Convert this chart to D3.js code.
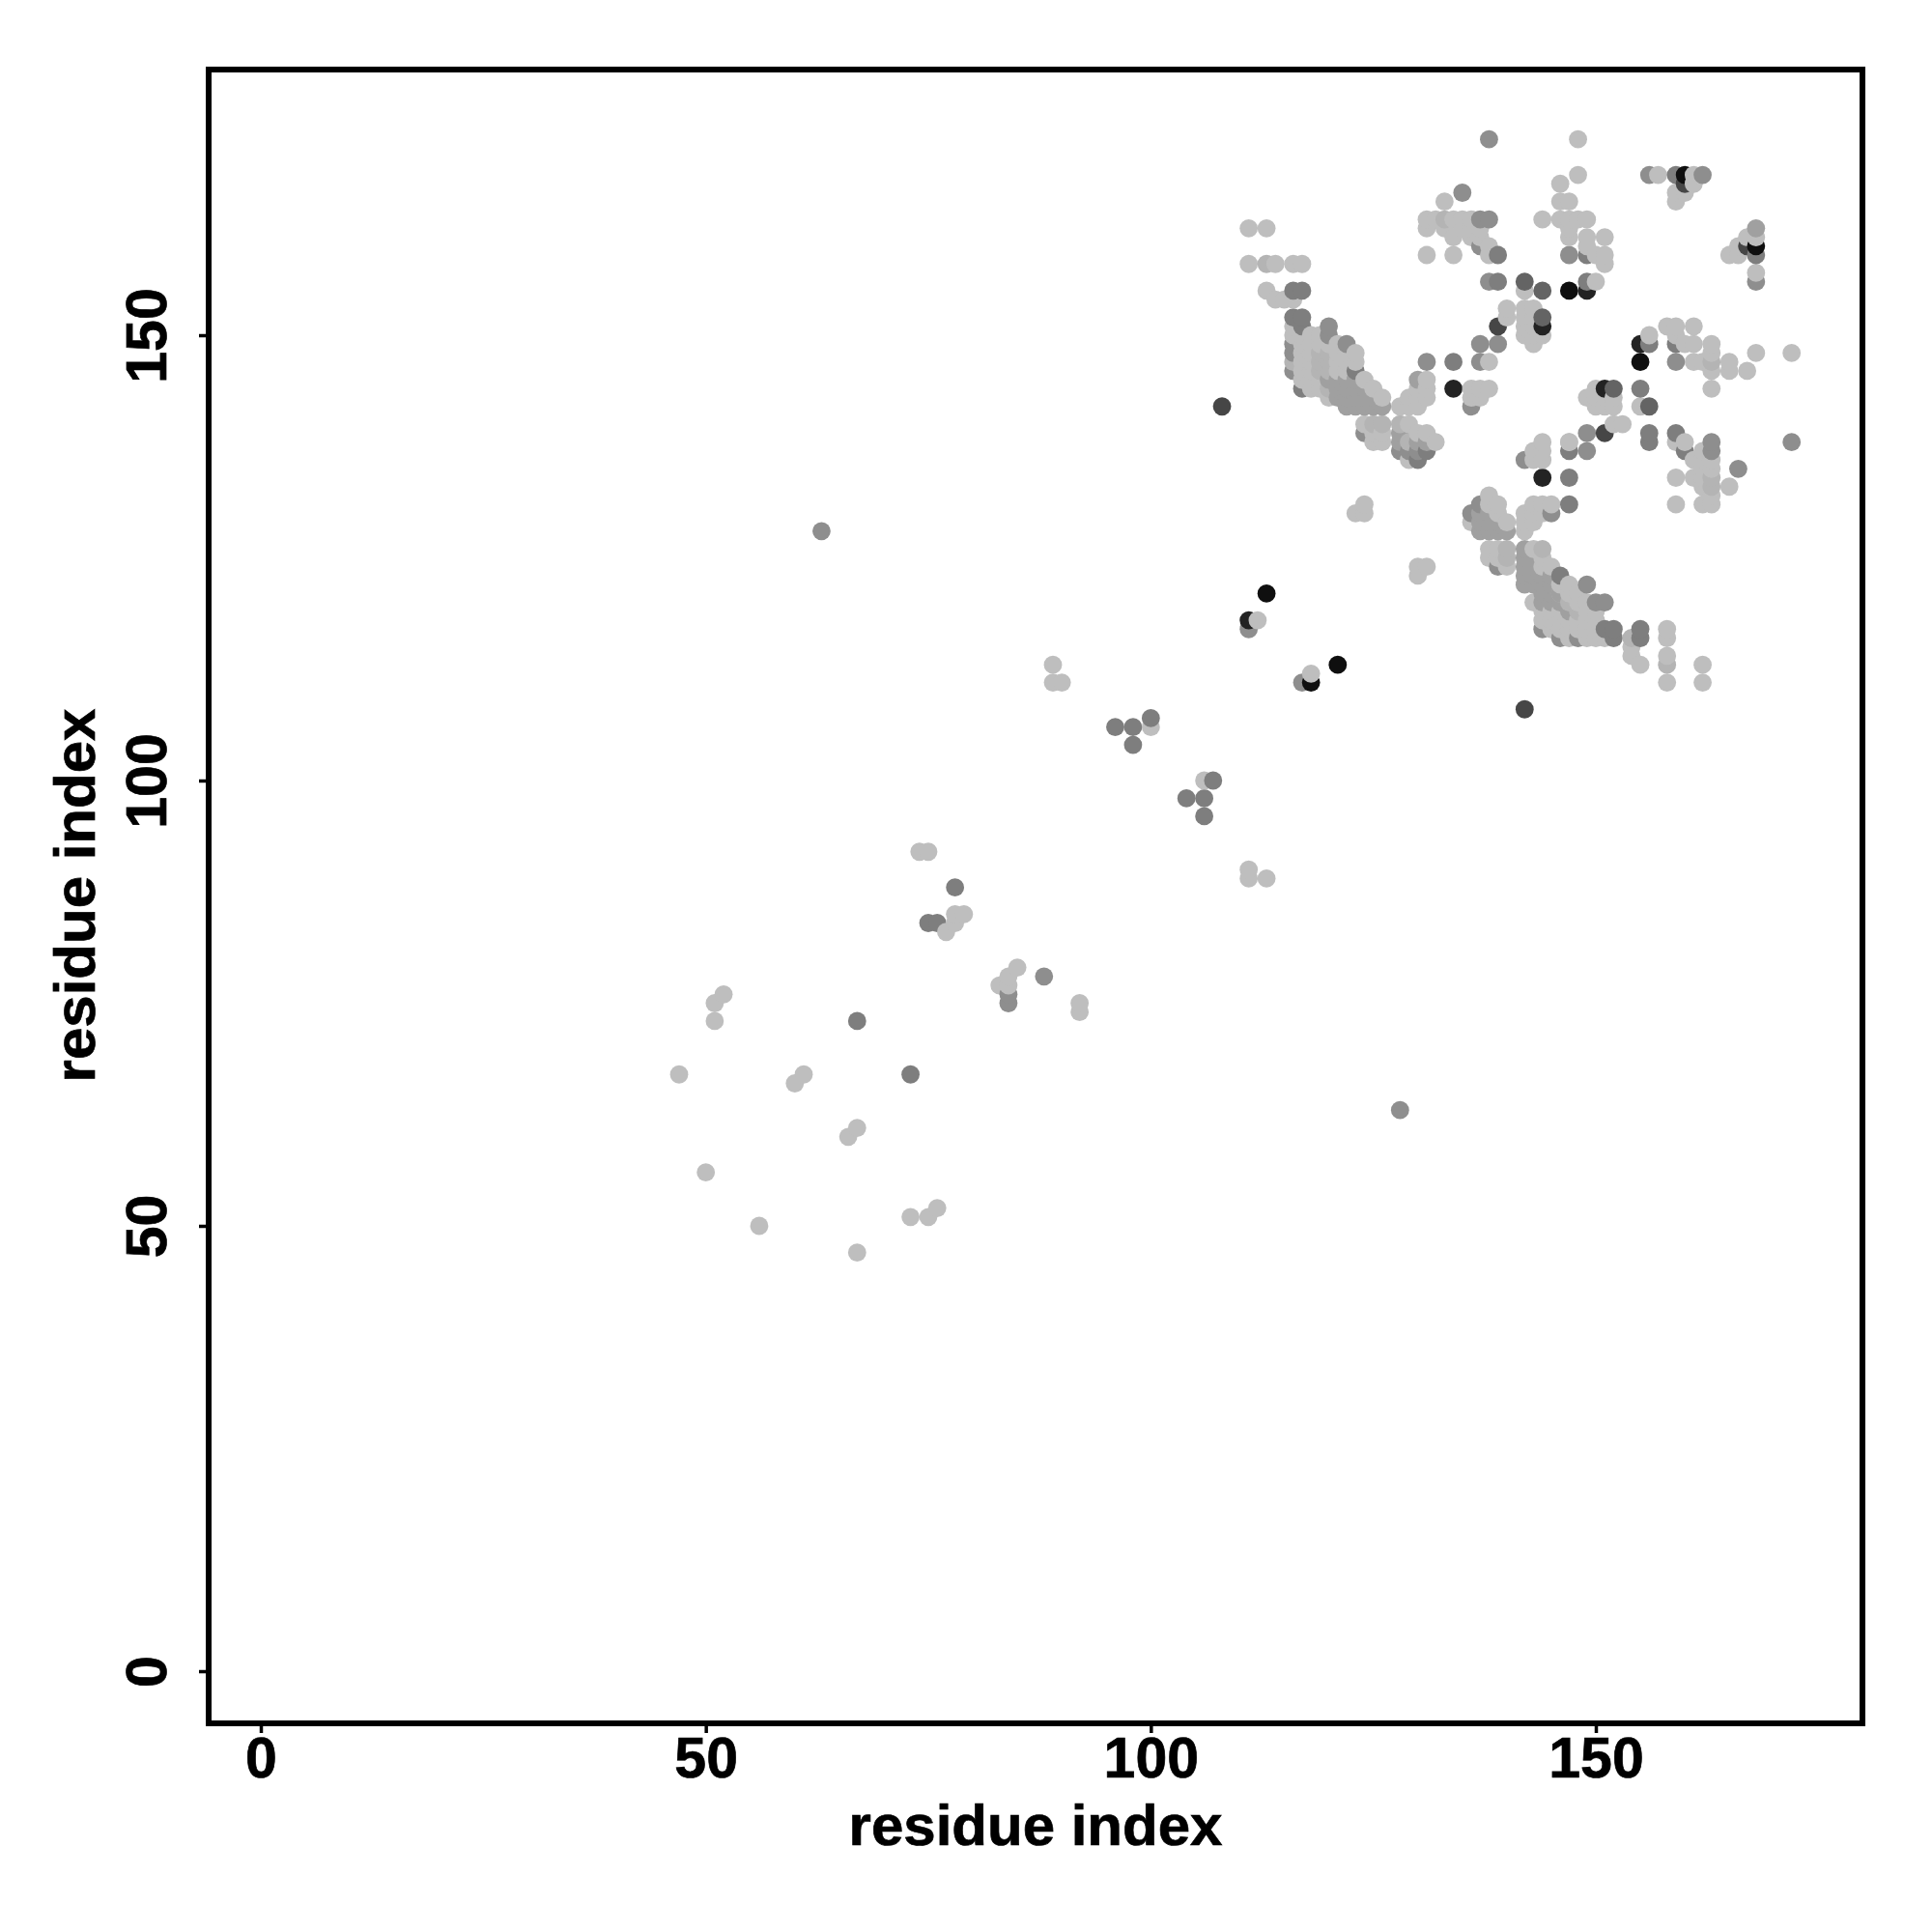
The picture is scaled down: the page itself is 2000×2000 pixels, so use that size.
<!DOCTYPE html>
<html><head><meta charset="utf-8">
<script src="https://cdn.jsdelivr.net/npm/d3@7/dist/d3.min.js"></script>
<style>html,body{margin:0;background:#fff}svg{display:block}text{font-family:"Liberation Sans",Arial,sans-serif;font-weight:bold;fill:#000;stroke:#000;stroke-width:0.7px}</style>
</head><body><script>
const tickValues = [0, 50, 100, 150];
const axisLabel = "residue index";
const shade190 = [[47,67],[50,56],[51,73],[51,75],[52,76],[56,50],[60,66],[61,67],[66,60],[67,61],[67,47],[73,51],[75,51],[76,52],[74,92],[75,92],[77,83],[78,84],[78,85],[79,85],[83,77],[84,78],[85,79],[84,77],[89,113],[89,111],[90,111],[92,75],[92,74],[100,106],[106,100],[111,90],[111,89],[113,89],[112,118],[118,112],[123,130],[124,130],[124,131],[130,123],[130,124],[131,124],
[111,162],[113,162],[111,158],[114,158],[116,158],[117,158],[113,155],[114,154],[115,154],[116,154],
[131,163],[132,163],[134,163],[135,163],[136,163],[131,162],[133,162],[135,162],[136,162],[137,162],[133,165],[131,159],[134,159],[134,161],[136,161],[137,161],[138,160],[138,159],
[116,151],[116,150],[117,150],[118,150],[119,150],[117,149],[118,149],[119,149],[120,149],[121,149],[117,148],[118,148],[121,148],[122,148],[123,148],[117,147],[118,147],[121,147],[122,147],[123,147],[117,146],[118,146],[121,146],[122,146],[117,145],[118,145],[119,145],[124,145],[118,144],[119,144],[125,144],[126,143],[120,143],
[124,140],[125,139],[126,139],[125,138],[126,138],[129,140],[129,136],[130,139],[131,139],[132,138],[128,142],[129,142],[130,142],[129,143],[130,143],[131,143],[131,144],[130,144],[131,145],
[136,144],[137,144],[138,144],[136,143],[137,143],[138,147],[140,153],[140,152],[142,153],[143,153],[142,152],[143,152],[142,151],[143,151],[142,150],[143,150],[143,149],[144,150],[142,155],
[148,172],[148,168],[146,167],[146,165],[147,165],[144,163],[146,163],[147,163],[148,163],[149,163],[147,162],[147,161],[149,161],[151,161],[149,160],[150,159],[151,159],[151,158],[150,156],
[157,168],[161,168],[161,167],[160,166],[159,166],[159,165],[168,161],[167,161],[166,160],[165,159],[166,159],[168,157],
[158,151],[159,151],[161,151],[156,150],[159,150],[160,149],[161,149],[163,149],[163,148],[168,148],[172,148],[161,147],[162,147],[165,147],[163,146],[165,146],[167,146],[163,144],[155,142],
[150,144],[149,143],[150,143],[151,143],[152,143],[150,142],[151,142],[152,142],[152,140],[153,140],[147,138],[144,138],[159,138],[160,138],[144,137],[143,137],[143,136],[144,136],
[143,131],[144,131],[145,131],[142,130],[143,130],[144,130],[142,129],[143,129],[142,128],[147,138],
[162,137],[161,136],[162,136],[163,136],[162,135],[163,135],[161,134],[162,134],[159,134],[165,133],[162,133],[159,131],[162,131],[163,131],[163,132],
[143,126],[144,125],[144,124],[145,124],[143,120],[146,122],[147,122],[147,121],[148,121],[149,120],[148,120],[145,119],[146,119],[149,119],[150,119],[146,118],[147,118],[148,118],[149,118],[150,118],[148,117],[149,117],[150,117],[144,119],[144,118],[145,118],[145,117],[146,117],[147,117],[147,116],[149,116],[150,116],[151,116],
[154,115],[154,114],[155,113],[158,116],[158,114],[158,111],[162,113],[162,111],[158,117],
[138,132],[138,131],[139,131],[139,130],[140,129],[136,129],[138,126],[138,125],[139,126],[139,125],[140,124]];
const shade180 = [[113,158],[116,147],[119,148],[120,148],[119,147],[120,147],[119,146],[120,146],[120,144],[133,163],[125,140],[126,140],[128,140],[129,138],[163,147],[163,134],[163,133],[154,116],[158,113],[146,121],[147,120],[148,119],[144,126],[140,126],[140,125]];
const shade160 = [[120,145],[121,145],[122,145],[123,145],[121,144],[122,144],[123,144],[124,144],[121,143],[122,143],[123,143],[124,143],[125,143],[122,142],[123,142],[124,142],[125,142],[126,142],[128,139],[128,138],[130,138],[131,138],[130,145],[168,162],[142,126],[142,125],[143,125],[142,124],[143,124],[142,123],[143,123],[144,123],[145,123],[142,122],[143,122],[144,122],[145,122],[144,121],[145,121],[146,120],[144,120],[145,120],[146,121],[147,119],
[137,130],[138,130],[137,129],[138,129],[139,129],[137,128],[138,128],[139,128],[140,128]];
const shade142 = [[63,128],[88,78],[116,149],[116,148],[116,146],[120,151],[120,150],[122,149],[128,137],[129,137],[130,137],[138,172],[135,166],[137,160],[137,149],[139,149],[131,147],[137,147],[136,142],[128,63],[111,117],[117,111],[149,139],[149,137],[142,136],[159,147],[138,156],[147,159],[168,156],[156,168],[162,168],[163,138],[163,137],[172,138],[166,135],[124,139],[145,130],[149,122],[150,120],[151,120],[144,117],[146,116],[148,116],[84,76],[84,75],[137,163],[138,163],[137,131],[136,130],[139,124]];
const shade126 = [[78,88],[75,84],[76,84],[96,106],[98,106],[98,104],[100,107],[104,98],[106,98],[106,96],[107,100],[67,73],[73,67],[116,155],[117,155],[116,152],[117,152],[117,151],[117,144],[123,146],[131,137],[130,136],[139,159],[139,156],[134,147],[147,137],[147,131],[160,137],[156,139],[156,138],[159,139],[159,149],[159,168],[149,159],[147,134],[146,123],[151,117],[152,117],[152,116],[155,117],[155,116],[155,144],[156,149],[149,156],[168,159]];
const shade100 = [[142,156],[144,155],[144,152],[152,144],[156,142]];
const shade70 = [[139,151],[151,139],[108,142],[142,108],[167,160],[160,167]];
const shade35 = [[134,144],[144,151],[144,134],[149,155],[151,144],[155,149],[111,118]];
const shade15 = [[113,121],[118,111],[121,113],[147,155],[155,147],[168,160],[160,168]];
const shadeGroups = [[190,shade190],[180,shade180],[160,shade160],[142,shade142],[126,shade126],[100,shade100],[70,shade70],[35,shade35],[15,shade15]];

const contacts = shadeGroups.flatMap(([g,l]) => l.map(([x,y]) => ({x,y,g})))
  .sort((a,b) => d3.ascending(a.x,b.x) || d3.ascending(a.y,b.y));

const W = 2000, H = 2000;
const frame = {left:216, right:1928, top:72, bottom:1784};
const x = d3.scaleLinear().domain([0,150]).range([270,1652]);
const y = d3.scaleLinear().domain([0,150]).range([1730,347]);
const svg = d3.select("body").append("svg").attr("width",W).attr("height",H);
svg.append("rect").attr("width",W).attr("height",H).attr("fill","#fff").attr("stroke","none");

svg.append("g").selectAll("circle").data(contacts).join("circle")
  .attr("cx",d=>x(d.x)).attr("cy",d=>y(d.y)).attr("r",9.4)
  .attr("fill",d=>d3.rgb(d.g,d.g,d.g));

svg.append("rect").attr("x",frame.left).attr("y",frame.top)
  .attr("width",frame.right-frame.left).attr("height",frame.bottom-frame.top)
  .attr("fill","none").attr("stroke","#000").attr("stroke-width",6);

const gx = svg.append("g").attr("transform",`translate(0,${frame.bottom})`)
  .call(d3.axisBottom(x).tickValues(tickValues).tickSize(10).tickPadding(0));
const gy = svg.append("g").attr("transform",`translate(${frame.left},0)`)
  .call(d3.axisLeft(y).tickValues(tickValues).tickSize(10).tickPadding(0));
[gx,gy].forEach(g=>{g.select(".domain").remove();g.selectAll("line").attr("stroke","#000").attr("stroke-width",3.5);});
gx.selectAll("text").attr("y",null).attr("dy",null)
  .attr("y",56).attr("text-anchor","middle").attr("font-size",59).style("font-weight","bold").style("font-family",'"Liberation Sans"');
gy.selectAll("text").attr("x",null).attr("dy",null)
  .attr("transform","translate(-44,0) rotate(-90)")
  .attr("text-anchor","middle").attr("font-size",59).style("font-weight","bold").style("font-family",'"Liberation Sans"');

svg.append("text").attr("x",1072).attr("y",1910).attr("text-anchor","middle").attr("font-size",60).text(axisLabel);
svg.append("text").attr("transform","translate(98,927) rotate(-90)").attr("text-anchor","middle").attr("font-size",60).text(axisLabel);
</script></body></html>
